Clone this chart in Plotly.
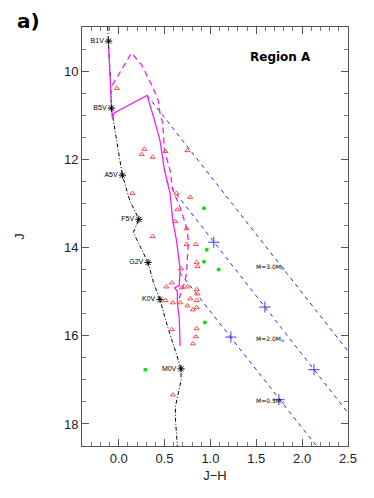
import plotly.graph_objects as go

# Main sequence (dash-dot black) and spectral-type markers
ms_jh = [-0.12, -0.11, -0.09, -0.08, -0.05, -0.01, 0.04, 0.12, 0.22, 0.16, 0.23, 0.32,
         0.38, 0.45, 0.53, 0.63, 0.68, 0.68, 0.62, 0.62, 0.64]
ms_j = [9.0, 9.32, 10.2, 10.84, 11.23, 11.8, 12.36, 12.93, 13.36, 13.66, 13.95, 14.34,
        14.8, 15.18, 15.77, 16.39, 16.75, 17.02, 17.59, 17.93, 18.52]

sp_types = ["B1V", "B5V", "A5V", "F5V", "G2V", "K0V", "M0V"]
sp_jh = [-0.11, -0.08, 0.04, 0.22, 0.32, 0.45, 0.68]
sp_j = [9.32, 10.84, 12.36, 13.36, 14.34, 15.18, 16.75]

# Isochrones (magenta)
iso_jh = [-0.11, -0.07, -0.05, 0.31, 0.39, 0.45, 0.50, 0.56, 0.59, 0.63, 0.67, 0.66,
          0.61, 0.64, 0.64, 0.66, 0.67]
iso_j = [9.48, 11.07, 10.95, 10.55, 11.11, 11.57, 12.25, 12.77, 13.39, 13.84, 14.48,
         14.86, 14.91, 15.0, 15.25, 15.61, 16.23]

iso2_jh = [-0.07, 0.14, 0.25, 0.37, 0.43, 0.45, 0.48, 0.50, 0.56, 0.59, 0.67, 0.74,
           0.76, 0.75, 0.74, 0.72, 0.69, 0.66]
iso2_j = [10.32, 9.59, 9.86, 10.36, 10.66, 10.95, 11.18, 11.8, 12.25, 12.7, 13.09,
          13.55, 13.84, 14.2, 14.57, 14.8, 14.93, 15.16]

# Reddening vectors (start, end)
red_labels = ["M=3.0M<sub>⊙</sub>", "M=2.0M<sub>⊙</sub>", "M=0.5M<sub>⊙</sub>"]
red_jh = [[0.31, 2.5], [0.52, 2.5], [0.666, 2.16]]
red_j = [[10.55, 16.35], [12.5, 17.75], [14.57, 18.51]]
lab_jh = [1.65, 1.65, 1.65]
lab_j = [14.45, 16.07, 17.48]

# Av tick marks along the vectors
av_jh = [1.037, 1.594, 2.129, 1.223, 1.747]
av_j = [13.88, 15.35, 16.77, 16.03, 17.45]

# Sources
tri_jh = [-0.02, 0.28, 0.25, 0.37, 0.51, 0.75, 0.15, 0.63, 0.78, 0.64, 0.62, 0.74, 0.37,
          0.74, 0.84, 0.85, 0.86, 0.68, 0.58, 0.52, 0.69, 0.75, 0.85, 0.86, 0.51, 0.59,
          0.67, 0.78, 0.85, 0.75, 0.81, 0.85, 0.58, 0.85, 0.84, 0.81, 0.59]
tri_j = [10.39, 11.77, 11.89, 11.95, 11.82, 11.8, 12.77, 12.77, 12.86, 13.14, 13.41,
         13.57, 13.75, 13.93, 13.93, 14.34, 14.43, 14.48, 14.8, 14.89, 14.91, 14.89,
         14.95, 15.05, 15.2, 15.25, 15.25, 15.16, 15.2, 15.32, 15.41, 15.36, 15.86,
         15.84, 16.02, 16.18, 17.34]

grn_jh = [0.93, 0.96, 0.93, 1.09, 0.94, 0.29]
grn_j = [13.11, 14.05, 14.32, 14.5, 15.7, 16.77]

fig = go.Figure()

for xs, ys in zip(red_jh, red_j):
    fig.add_trace(go.Scatter(x=xs, y=ys, mode="lines",
                             line=dict(color="#2b2bf0", width=1, dash="4px,4px")))

fig.add_trace(go.Scatter(x=ms_jh, y=ms_j, mode="lines",
                         line=dict(color="black", width=1, dash="4px,2px,1px,2px")))
fig.add_trace(go.Scatter(x=iso_jh, y=iso_j, mode="lines",
                         line=dict(color="#f020f0", width=1.3)))
fig.add_trace(go.Scatter(x=iso2_jh, y=iso2_j, mode="lines",
                         line=dict(color="#f020f0", width=1.3, dash="6px,4px")))

fig.add_trace(go.Scatter(x=sp_jh, y=sp_j, mode="markers+text", text=sp_types,
                         textposition="middle left",
                         textfont=dict(size=7, color="black", family="Liberation Sans"),
                         marker=dict(symbol="asterisk-open", size=6, color="black",
                                     line=dict(width=1, color="black"))))

fig.add_trace(go.Scatter(x=av_jh, y=av_j, mode="markers",
                         marker=dict(symbol="cross-thin-open", size=8, color="#3a3af0",
                                     line=dict(width=1, color="#3a3af0"))))

fig.add_trace(go.Scatter(x=tri_jh, y=tri_j, mode="markers",
                         marker=dict(symbol="triangle-up-open", size=4.5, color="#ff4a4a",
                                     line=dict(width=1, color="#ff4a4a"))))
fig.add_trace(go.Scatter(x=grn_jh, y=grn_j, mode="markers",
                         marker=dict(symbol="circle", size=4, color="#10e010")))

for t, x, y in zip(red_labels, lab_jh, lab_j):
    fig.add_annotation(x=x, y=y, text=t, showarrow=False,
                       font=dict(size=6, color="black", family="DejaVu Sans"))

fig.add_annotation(x=1.76, y=9.68, text="<b>Region A</b>", showarrow=False,
                   font=dict(size=12, color="black", family="DejaVu Sans"))
fig.add_annotation(x=0.0, y=1.0, xref="paper", yref="paper", text="<b>a)</b>",
                   xanchor="left", yanchor="top", xshift=-67, yshift=20,
                   showarrow=False, font=dict(size=20, color="black", family="DejaVu Sans"))

axis_common = dict(
    showline=True, linecolor="#555", linewidth=1, mirror="ticks",
    ticks="inside", ticklen=7, tickcolor="#555", showgrid=False, zeroline=False,
    tickfont=dict(size=13, color="#222", family="Liberation Sans"),
)

# the page adds an 8px body margin, so the figure is a bit smaller
fig.update_layout(
    width=366, height=490,
    margin=dict(l=74, r=26, t=19, b=52),
    paper_bgcolor="white", plot_bgcolor="white",
    showlegend=False,
    xaxis=dict(range=[-0.4, 2.5], dtick=0.5, tickformat=".1f",
               minor=dict(dtick=0.1, ticks="inside", ticklen=4, tickcolor="#777"),
               title=dict(text="J−H", standoff=6,
                          font=dict(size=13, color="#222", family="Liberation Sans")),
               **axis_common),
    yaxis=dict(range=[18.5, 9.0], dtick=2, tick0=10,
               minor=dict(dtick=0.5, ticks="inside", ticklen=4, tickcolor="#777"),
               title=dict(text="J", standoff=36,
                          font=dict(size=13, color="#222", family="Liberation Sans")),
               **axis_common),
)

fig.write_html("out.html")
